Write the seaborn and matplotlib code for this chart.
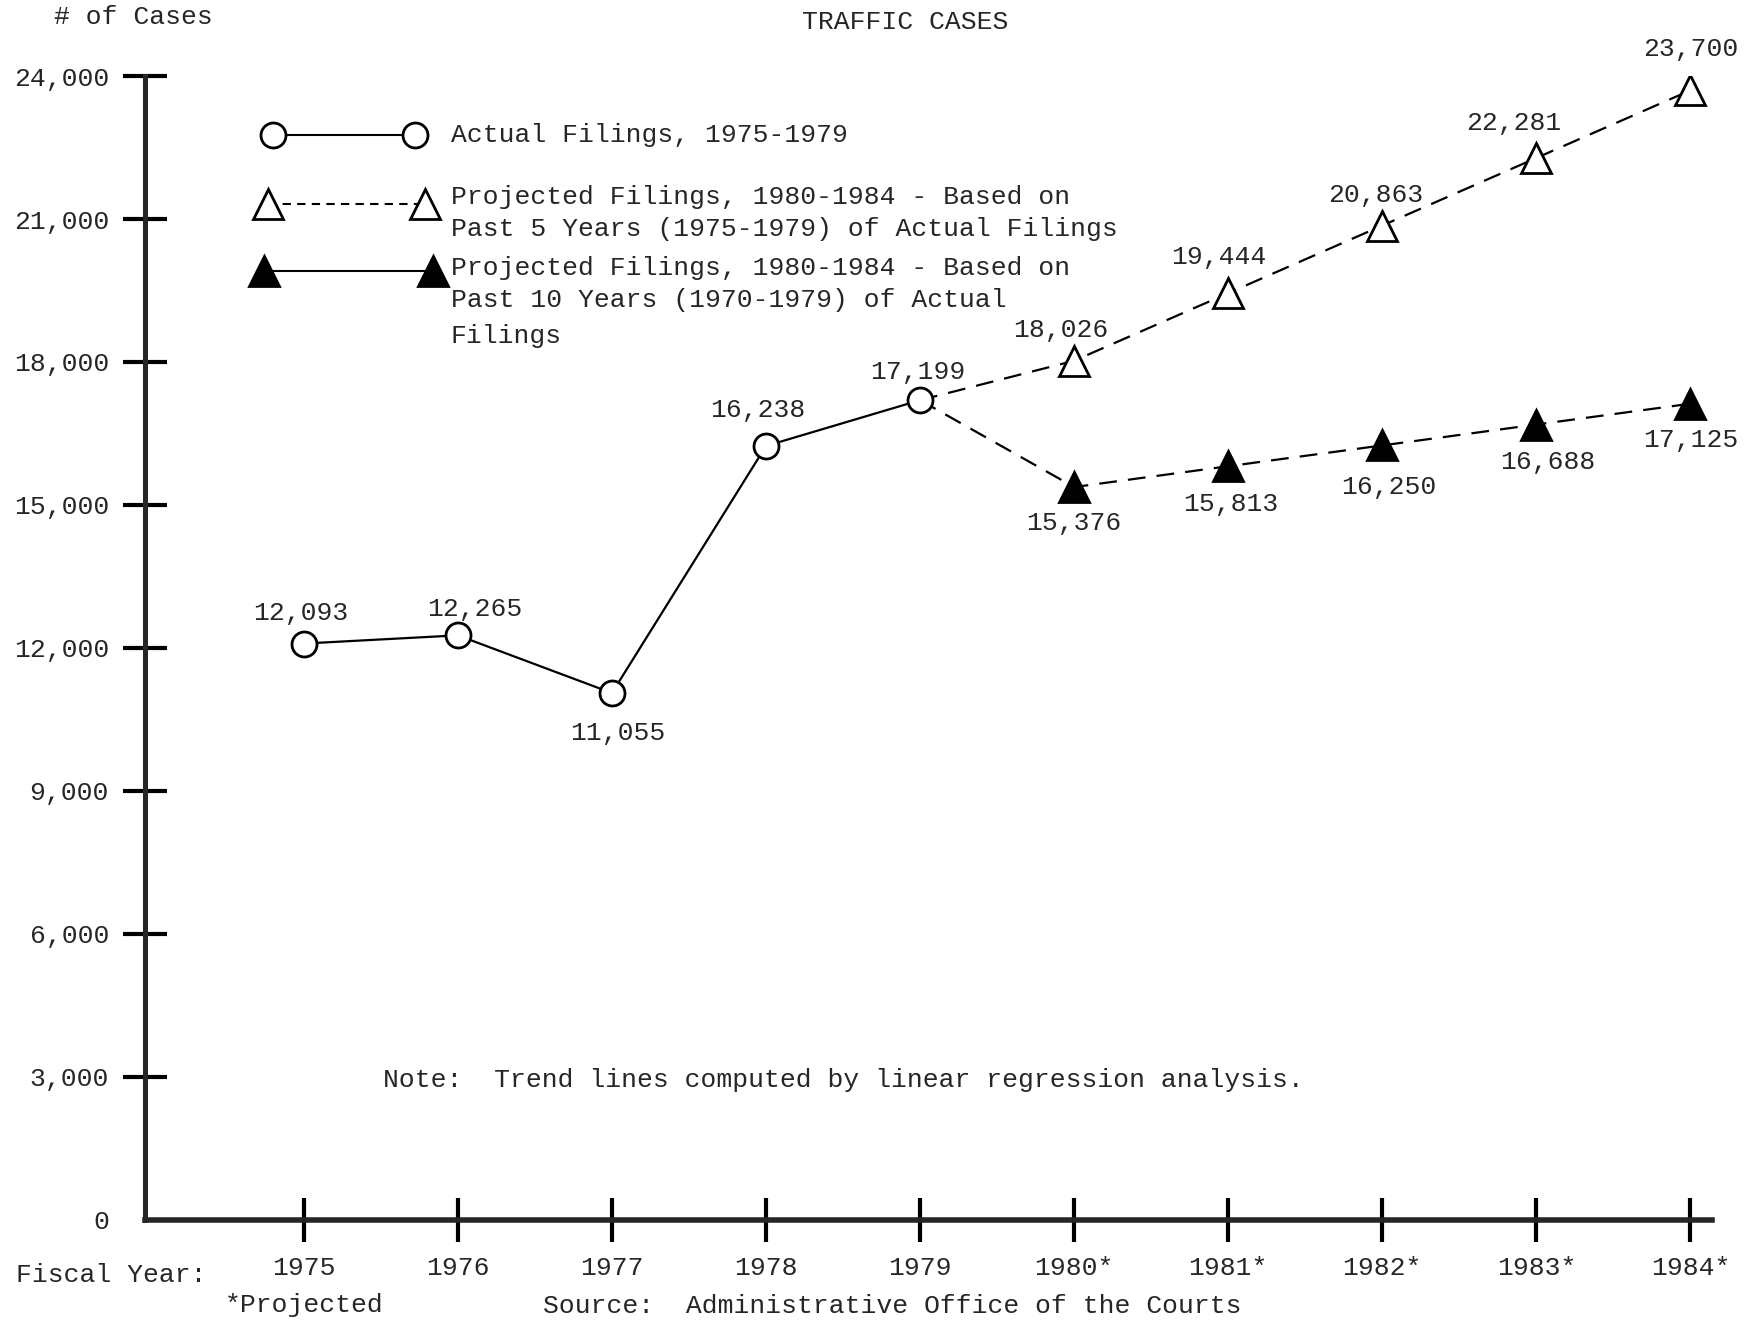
import numpy as np
import pandas as pd
import seaborn as sns
import matplotlib.pyplot as plt
from matplotlib.lines import Line2D

# data
years_actual = [1975, 1976, 1977, 1978, 1979]
actual = [12093, 12265, 11055, 16238, 17199]
years_proj = [1980, 1981, 1982, 1983, 1984]
proj_5yr = [18026, 19444, 20863, 22281, 23700]
proj_10yr = [15376, 15813, 16250, 16688, 17125]
year_labels = ["1975", "1976", "1977", "1978", "1979",
               "1980*", "1981*", "1982*", "1983*", "1984*"]
y_ticks = [0, 3000, 6000, 9000, 12000, 15000, 18000, 21000, 24000]

# label offsets in points (dx, dy)
off_actual = [(-2, 22), (12, 19), (4, -29), (-6, 26), (-2, 20)]
off_5yr = [(-10, 22), (-7, 26), (-5, 22), (-16, 25), (0, 30)]
off_10yr = [(0, -26), (2, -27), (5, -30), (8, -27), (0, -26)]

sns.set_style("white")
plt.rcParams['font.family'] = ['Liberation Mono', 'DejaVu Sans Mono']
FS = 19

df_actual = pd.DataFrame({"year": years_actual, "cases": actual})
df_5 = pd.DataFrame({"year": [years_actual[-1]] + years_proj,
                     "cases": [actual[-1]] + proj_5yr})
df_10 = pd.DataFrame({"year": [years_actual[-1]] + years_proj,
                      "cases": [actual[-1]] + proj_10yr})

fig = plt.figure(figsize=(17.5, 13.22), dpi=100)
ax = fig.add_axes([0.0829, 0.0772, 0.8954, 0.8653])

dash = (0, (8, 5))
sns.lineplot(data=df_5, x="year", y="cases", ax=ax, color="black", lw=1.6,
             linestyle=dash, marker="^", markersize=21, markerfacecolor="white",
             markeredgecolor="black", markeredgewidth=2,
             markevery=list(range(1, len(df_5))), zorder=3)
sns.lineplot(data=df_10, x="year", y="cases", ax=ax, color="black", lw=1.6,
             linestyle=dash, marker="^", markersize=21, markerfacecolor="black",
             markeredgecolor="black", markeredgewidth=2,
             markevery=list(range(1, len(df_10))), zorder=3)
sns.lineplot(data=df_actual, x="year", y="cases", ax=ax, color="black", lw=1.6,
             marker="o", markersize=18, markerfacecolor="white",
             markeredgecolor="black", markeredgewidth=2, zorder=4)

# value labels
for xs, ys, offs in [(years_actual, actual, off_actual),
                     (years_proj, proj_5yr, off_5yr),
                     (years_proj, proj_10yr, off_10yr)]:
    for x, y, (dx, dy) in zip(xs, ys, offs):
        ax.annotate(f"{y:,}", (x, y), xytext=(dx, dy), textcoords="offset points",
                    ha="center", va="center", fontsize=FS)

# axes styling
ax.set_xlim(1973.97, 1984.14)
ax.set_ylim(0, 24000)
ax.set_xlabel("")
ax.set_ylabel("")
all_years = years_actual + years_proj
ax.set_xticks(all_years)
ax.set_xticklabels(year_labels, fontsize=FS)
ax.set_yticks(y_ticks)
ax.set_yticklabels([f"{v:,}" for v in y_ticks], fontsize=FS)
for s in ["top", "right"]:
    ax.spines[s].set_visible(False)
ax.spines["left"].set_linewidth(3.6)
ax.spines["bottom"].set_linewidth(4)
ax.tick_params(axis="both", direction="inout", length=32, width=3, color="black",
               bottom=True, left=True)
ax.tick_params(axis="x", pad=10)
ax.tick_params(axis="y", pad=10)
ax.yaxis.get_major_ticks()[0].tick1line.set_visible(False)
ax.grid(False)

# legend drawn as a key in axes fraction
keys = [
    dict(x=(0.0817, 0.1723), y=0.948, ls="-", marker="o", ms=18, mfc="white"),
    dict(x=(0.0785, 0.1787), y=0.888, ls=(0, (4, 3)), marker="^", ms=21, mfc="white"),
    dict(x=(0.0760, 0.1840), y=0.8295, ls="-", marker="^", ms=21, mfc="black"),
]
for k in keys:
    ax.add_line(Line2D(k["x"], [k["y"], k["y"]], transform=ax.transAxes,
                       color="black", lw=1.5, linestyle=k["ls"], marker=k["marker"],
                       markersize=k["ms"], markerfacecolor=k["mfc"],
                       markeredgecolor="black", markeredgewidth=2, clip_on=False))
legend_lines = [
    (0.948, "Actual Filings, 1975-1979"),
    (0.894, "Projected Filings, 1980-1984 - Based on"),
    (0.866, "Past 5 Years (1975-1979) of Actual Filings"),
    (0.832, "Projected Filings, 1980-1984 - Based on"),
    (0.804, "Past 10 Years (1970-1979) of Actual"),
    (0.773, "Filings"),
]
for yy, txt in legend_lines:
    ax.text(0.195, yy, txt, transform=ax.transAxes, fontsize=FS,
            va="center", ha="left")

ax.text(0.152, 0.122, "Note:  Trend lines computed by linear regression analysis.",
        transform=ax.transAxes, fontsize=FS, va="center", ha="left")

# figure texts
fig.text(0.031, 0.987, "# of Cases", fontsize=FS, va="center", ha="left")
fig.text(0.517, 0.983, "TRAFFIC CASES", fontsize=FS, va="center", ha="center")
fig.text(0.009, 0.0356, "Fiscal Year:", fontsize=FS, va="center", ha="left")
fig.text(0.174, 0.013, "*Projected", fontsize=FS, va="center", ha="center")
fig.text(0.51, 0.003, "Source:  Administrative Office of the Courts", fontsize=FS,
         va="bottom", ha="center")

fig.savefig("out.png", dpi=100)
